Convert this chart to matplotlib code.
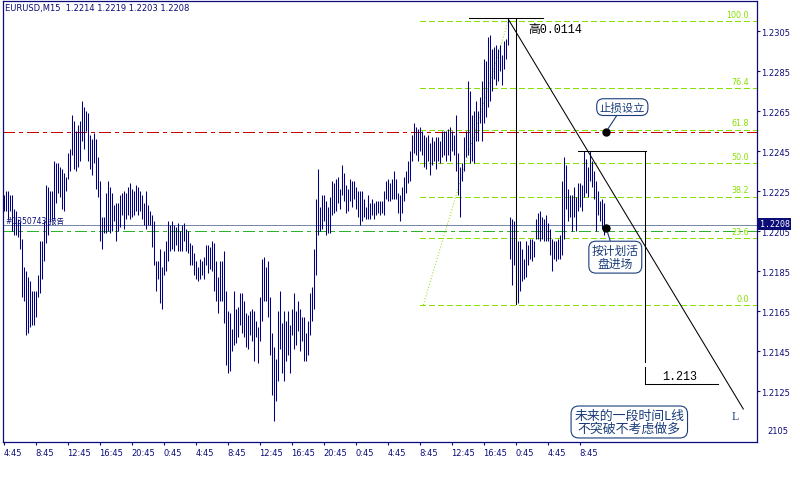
import matplotlib
matplotlib.use("Agg")
import matplotlib.pyplot as plt

# 設定
plt.rcParams['font.family'] = ['DejaVu Sans', 'Noto Sans CJK SC']
plt.rcParams['lines.scale_dashes'] = False

# EURUSD M15 bars (high / low)
highs = [1.2223, 1.2225, 1.2225, 1.2223, 1.2223, 1.2216, 1.2215, 1.2211, 1.2210, 1.2201,
         1.2187, 1.2185, 1.2182, 1.2180, 1.2175, 1.2175, 1.2175, 1.2183, 1.2200, 1.2200,
         1.2210, 1.2228, 1.2227, 1.2225, 1.2225, 1.2240, 1.2239, 1.2239, 1.2237, 1.2236,
         1.2234, 1.2232, 1.2244, 1.2246, 1.2263, 1.2260, 1.2255, 1.2258, 1.2260, 1.2270,
         1.2267, 1.2265, 1.2264, 1.2253, 1.2251, 1.2254, 1.2251, 1.2242, 1.2230, 1.2212,
         1.2212, 1.2224, 1.2230, 1.2227, 1.2224, 1.2218, 1.2219, 1.2219, 1.2223, 1.2224,
         1.2225, 1.2224, 1.2227, 1.2229, 1.2226, 1.2225, 1.2228, 1.2227, 1.2225, 1.2223,
         1.2219, 1.2225, 1.2218, 1.2215, 1.2213, 1.2210, 1.2190, 1.2190, 1.2196, 1.2187,
         1.2195, 1.2200, 1.2210, 1.2208, 1.2210, 1.2208, 1.2207, 1.2209, 1.2205, 1.2208,
         1.2209, 1.2206, 1.2205, 1.2199, 1.2198, 1.2194, 1.2190, 1.2187, 1.2191, 1.2190,
         1.2192, 1.2198, 1.2198, 1.2197, 1.2200, 1.2199, 1.2190, 1.2182, 1.2190, 1.2190,
         1.2195, 1.2175, 1.2165, 1.2164, 1.2156, 1.2175, 1.2166, 1.2167, 1.2174, 1.2174,
         1.2170, 1.2164, 1.2163, 1.2165, 1.2166, 1.2165, 1.2160, 1.2157, 1.2172, 1.2191,
         1.2192, 1.2187, 1.2190, 1.2172, 1.2154, 1.2147, 1.2141, 1.2165, 1.2175, 1.2159,
         1.2165, 1.2160, 1.2165, 1.2158, 1.2166, 1.2174, 1.2165, 1.2170, 1.2166, 1.2162,
         1.2162, 1.2154, 1.2160, 1.2174, 1.2177, 1.2196, 1.2221, 1.2236, 1.2217, 1.2223,
         1.2223, 1.2220, 1.2217, 1.2222, 1.2230, 1.2229, 1.2231, 1.2232, 1.2226, 1.2238,
         1.2234, 1.2228, 1.2226, 1.2231, 1.2230, 1.2230, 1.2227, 1.2225, 1.2225, 1.2225,
         1.2221, 1.2217, 1.2223, 1.2219, 1.2221, 1.2219, 1.2220, 1.2220, 1.2220, 1.2220,
         1.2225, 1.2230, 1.2231, 1.2229, 1.2231, 1.2235, 1.2231, 1.2224, 1.2223, 1.2227,
         1.2232, 1.2235, 1.2240, 1.2245, 1.2253, 1.2259, 1.2257, 1.2256, 1.2257, 1.2255,
         1.2253, 1.2252, 1.2253, 1.2249, 1.2252, 1.2250, 1.2252, 1.2252, 1.2250, 1.2255,
         1.2255, 1.2255, 1.2256, 1.2257, 1.2255, 1.2253, 1.2263, 1.2244, 1.2237, 1.2239,
         1.2252, 1.2255, 1.2280, 1.2275, 1.2263, 1.2265, 1.2270, 1.2265, 1.2272, 1.2280,
         1.2291, 1.2290, 1.2302, 1.2303, 1.2296, 1.2297, 1.2298, 1.2296, 1.2298, 1.2293,
         1.2300, 1.2301, 1.2311, 1.2212, 1.2211, 1.2210, 1.2205, 1.2200, 1.2200, 1.2196,
         1.2191, 1.2200, 1.2198, 1.2201, 1.2201, 1.2200, 1.2211, 1.2214, 1.2215, 1.2212,
         1.2211, 1.2213, 1.2209, 1.2206, 1.2201, 1.2200, 1.2200, 1.2201, 1.2203, 1.2230,
         1.2242, 1.2238, 1.2226, 1.2223, 1.2223, 1.2227, 1.2222, 1.2229, 1.2229, 1.2228,
         1.2245, 1.2241, 1.2237, 1.2245, 1.2240, 1.2235, 1.2230, 1.2225, 1.2220, 1.2221,
         1.2219]
lows = [1.2215, 1.2215, 1.2211, 1.2215, 1.2205, 1.2203, 1.2203, 1.2202, 1.2196, 1.2172,
        1.2170, 1.2153, 1.2154, 1.2157, 1.2158, 1.2158, 1.2162, 1.2172, 1.2174, 1.2181,
        1.2190, 1.2199, 1.2203, 1.2210, 1.2211, 1.2211, 1.2219, 1.2224, 1.2222, 1.2216,
        1.2215, 1.2225, 1.2231, 1.2235, 1.2243, 1.2236, 1.2235, 1.2237, 1.2240, 1.2250,
        1.2246, 1.2255, 1.2240, 1.2236, 1.2233, 1.2239, 1.2226, 1.2222, 1.2200, 1.2196,
        1.2204, 1.2204, 1.2205, 1.2204, 1.2205, 1.2210, 1.2200, 1.2205, 1.2207, 1.2213,
        1.2206, 1.2211, 1.2213, 1.2211, 1.2212, 1.2213, 1.2215, 1.2213, 1.2215, 1.2211,
        1.2208, 1.2206, 1.2208, 1.2208, 1.2197, 1.2188, 1.2175, 1.2181, 1.2169, 1.2166,
        1.2183, 1.2185, 1.2190, 1.2195, 1.2196, 1.2195, 1.2198, 1.2195, 1.2195, 1.2195,
        1.2200, 1.2195, 1.2194, 1.2188, 1.2188, 1.2183, 1.2181, 1.2180, 1.2181, 1.2183,
        1.2181, 1.2188, 1.2184, 1.2186, 1.2185, 1.2175, 1.2170, 1.2164, 1.2170, 1.2170,
        1.2159, 1.2138, 1.2134, 1.2135, 1.2145, 1.2148, 1.2149, 1.2152, 1.2158, 1.2154,
        1.2152, 1.2147, 1.2146, 1.2153, 1.2150, 1.2140, 1.2152, 1.2139, 1.2150, 1.2160,
        1.2170, 1.2170, 1.2162, 1.2143, 1.2123, 1.2110, 1.2120, 1.2130, 1.2146, 1.2134,
        1.2130, 1.2140, 1.2143, 1.2134, 1.2153, 1.2146, 1.2148, 1.2155, 1.2145, 1.2150,
        1.2140, 1.2140, 1.2143, 1.2153, 1.2160, 1.2166, 1.2183, 1.2203, 1.2205, 1.2206,
        1.2210, 1.2203, 1.2204, 1.2204, 1.2213, 1.2214, 1.2215, 1.2219, 1.2216, 1.2223,
        1.2220, 1.2214, 1.2215, 1.2220, 1.2217, 1.2221, 1.2216, 1.2212, 1.2208, 1.2210,
        1.2212, 1.2211, 1.2211, 1.2211, 1.2213, 1.2211, 1.2213, 1.2214, 1.2213, 1.2214,
        1.2213, 1.2221, 1.2220, 1.2220, 1.2221, 1.2221, 1.2221, 1.2214, 1.2210, 1.2214,
        1.2220, 1.2224, 1.2229, 1.2230, 1.2240, 1.2244, 1.2243, 1.2240, 1.2245, 1.2243,
        1.2237, 1.2236, 1.2240, 1.2233, 1.2238, 1.2240, 1.2236, 1.2240, 1.2239, 1.2242,
        1.2243, 1.2240, 1.2243, 1.2240, 1.2245, 1.2243, 1.2235, 1.2223, 1.2212, 1.2230,
        1.2235, 1.2242, 1.2243, 1.2239, 1.2240, 1.2239, 1.2250, 1.2250, 1.2259, 1.2250,
        1.2259, 1.2262, 1.2267, 1.2270, 1.2275, 1.2281, 1.2278, 1.2280, 1.2285, 1.2278,
        1.2286, 1.2291, 1.2298, 1.2191, 1.2178, 1.2188, 1.2170, 1.2169, 1.2175, 1.2180,
        1.2181, 1.2182, 1.2188, 1.2191, 1.2190, 1.2192, 1.2201, 1.2201, 1.2200, 1.2201,
        1.2200, 1.2200, 1.2200, 1.2193, 1.2185, 1.2191, 1.2190, 1.2191, 1.2191, 1.2193,
        1.2201, 1.2216, 1.2210, 1.2212, 1.2205, 1.2212, 1.2205, 1.2215, 1.2217, 1.2215,
        1.2222, 1.2224, 1.2222, 1.2230, 1.2227, 1.2221, 1.2205, 1.2213, 1.2210, 1.2206,
        1.2203]

time_labels = ["4:45", "8:45", "12:45", "16:45", "20:45", "0:45", "4:45", "8:45", "12:45",
               "16:45", "20:45", "0:45", "4:45", "8:45", "12:45", "16:45", "0:45", "4:45", "8:45"]
price_ticks = [1.2125, 1.2145, 1.2165, 1.2185, 1.2205, 1.2225, 1.2245, 1.2265, 1.2285, 1.2305]

header = "EURUSD,M15  1.2214 1.2219 1.2203 1.2208"
last_price = 1.2208
order_price = 1.22053
stop_line = 1.22545

# フィボナッチ
fib_high = 1.2310
fib_low = 1.21682
fib_levels = [0.0, 23.6, 38.2, 50.0, 61.8, 76.4, 100.0]

navy = '#0c0c78'
note = '#1a3d7a'
fib_green = '#86e000'

fig = plt.figure(figsize=(8, 4.81), dpi=100, facecolor='white')
ax = fig.add_axes([2.5 / 800, 38 / 481, 754.2 / 800, 441.5 / 481])
ax.set_xlim(-0.5, 376.6)
ax.set_ylim(1.20997, 1.23204)

# bars
ax.vlines(range(len(highs)), lows, highs, color='#000080', lw=0.75, zorder=3)

# horizontal lines over full width
ax.axhline(stop_line, color='#d00000', lw=0.72, dashes=[8.6, 2.9, 2.2, 2.9],
           antialiased=False, zorder=2)
ax.axhline(last_price, color='#7888a0', lw=0.72, antialiased=False, zorder=2)
ax.axhline(order_price, color='#28b428', lw=0.72, dashes=[8.6, 2.9, 2.2, 2.9],
           antialiased=False, zorder=2)
ax.text(1.5, last_price, "#1350743 报告", fontsize=5.5, color=navy, va='bottom',
        family=['DejaVu Sans', 'Noto Sans CJK SC'], zorder=4)

# fibonacci retracement
fib_x0, fib_x1 = 208.4, 376.0
for lv in fib_levels:
    p = fib_low + (fib_high - fib_low) * lv / 100
    ax.plot([fib_x0, fib_x1], [p, p], color=fib_green, lw=0.72, dashes=[4.3, 2.2],
            antialiased=False, zorder=2)
    ax.text(372.6, p + 0.00012, f"{lv:.1f}", color=fib_green, fontsize=5.8, ha='right', va='bottom')
ax.plot([209.9, 252.3], [fib_low, fib_high], color=fib_green, lw=0.72, dashes=[0.72, 1.44], zorder=2)

# 高 measurement
ax.plot([232.9, 269.9], [1.23115, 1.23115], color='black', lw=0.75, zorder=5)
ax.plot([256.4, 256.4], [1.23115, 1.21687], color='black', lw=0.75, zorder=5)
ax.text(262.3, 1.23090, "高0.0114", fontsize=8.5, va='top', ha='left',
        family=['Liberation Mono', 'Noto Sans CJK SC'], zorder=5)

# second high / target box
ax.plot([287.4, 321.4], [1.2245, 1.2245], color='black', lw=0.75, zorder=5)
ax.plot([320.9, 320.9], [1.2245, 1.21397], color='black', lw=0.75, zorder=5)
ax.plot([320.9, 320.9], [1.21372, 1.21287], color='black', lw=0.75, zorder=5)
ax.plot([320.9, 357.4], [1.21287, 1.21287], color='black', lw=0.75, zorder=5)
ax.text(329.4, 1.21327, "1.213", fontsize=8.5, va='center', ha='left', family='Liberation Mono')

# L trend line
ax.plot([252.3, 369.9], [1.23112, 1.21162], color='black', lw=0.75, zorder=5)
ax.text(365.9, 1.21127, "L", fontsize=8.5, color=note, ha='center', va='center',
        family='Liberation Serif')

# notes with bubbles
bubble = dict(boxstyle='round,pad=0.25,rounding_size=0.6', fc='white', ec=note, lw=0.8)
ax.plot([301.1, 301.4], [stop_line, 1.22065], 'o', color='black', ms=5, zorder=6)
ax.annotate("止损设立", xy=(301.1, stop_line), xytext=(309.4, 1.22671),
            fontsize=8.2, color=note, ha='center', va='center', family='Noto Sans CJK SC',
            bbox=bubble, zorder=7,
            arrowprops=dict(arrowstyle='-', color=note, lw=0.8, shrinkA=0, shrinkB=3))
ax.annotate("按计划活\n盘进场", xy=(301.4, 1.22065), xytext=(305.9, 1.21921),
            fontsize=8.5, color=note, ha='center', va='center', family='Noto Sans CJK SC',
            linespacing=1.0, bbox=bubble, zorder=7,
            arrowprops=dict(arrowstyle='-', color=note, lw=0.8, shrinkA=0, shrinkB=3))
ax.text(312.9, 1.21097, "未来的一段时间L线\n不突破不考虑做多", fontsize=9.3, color=note,
        ha='center', va='center', family='Noto Sans CJK SC', linespacing=0.95,
        bbox=bubble, zorder=7)

# axes styling
for s in ax.spines.values():
    s.set_color(navy)
    s.set_linewidth(0.9)
ax.yaxis.tick_right()
ax.set_yticks(price_ticks)
ax.set_yticklabels([f"{p:.4f}" for p in price_ticks])
ax.set_xticks(range(0, 16 * len(time_labels), 16))
ax.set_xticklabels(time_labels)
for lbl in ax.get_xticklabels():
    lbl.set_ha('left')
ax.tick_params(axis='both', colors=navy, labelsize=6, length=2.5, width=0.8)
ax.tick_params(axis='y', pad=1.0)
ax.tick_params(axis='x', pad=1.5)

# header and current price tag
ax.text(0.003, 0.995, header, transform=ax.transAxes, fontsize=6, color=navy, va='top', ha='left')
ax.text(1.004, last_price + 0.00008, "1.2208", transform=ax.get_yaxis_transform(), fontsize=6,
        color='white', va='center', ha='left', family='DejaVu Sans Mono',
        bbox=dict(boxstyle='square,pad=0.15', fc='#0c0c78', ec='none'), clip_on=False, zorder=8)
fig.text(767 / 800, 1 - 432 / 481, "2105", fontsize=6, color=navy, va='center', ha='left')

fig.savefig("out.png", dpi=100, facecolor='white')
